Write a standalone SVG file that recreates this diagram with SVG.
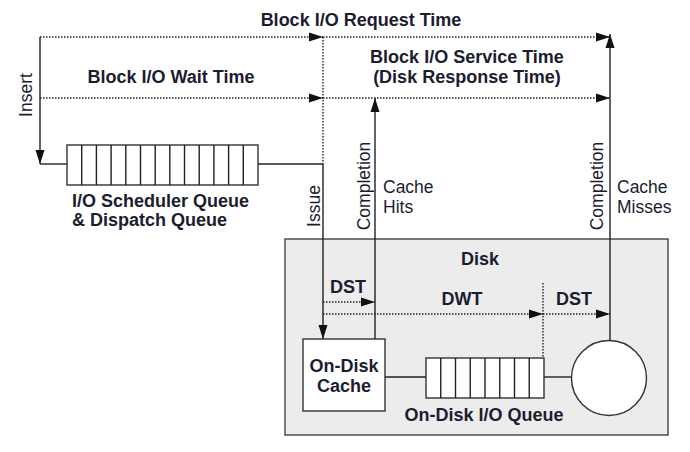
<svg xmlns="http://www.w3.org/2000/svg" width="690" height="452" viewBox="0 0 690 452">
<style>
.b{font-family:"Liberation Sans",Arial,sans-serif;font-weight:bold;font-size:18px;fill:#1c1c30}
.r{font-family:"Liberation Sans",Arial,sans-serif;font-size:17.5px;fill:#1c1c30}
.s{stroke:#222;stroke-width:1.4;fill:none}
.d{stroke:#222;stroke-width:1.4;fill:none;stroke-dasharray:1.5 1.5}
.box{fill:#fff;stroke:#333;stroke-width:1.4}
</style>
<defs>
<marker id="al" viewBox="0 0 14 10" refX="14" refY="5" markerWidth="14" markerHeight="10" markerUnits="userSpaceOnUse" orient="auto"><path d="M0,0.5 L14,5 L0,9.5 Z" fill="#111"/></marker>
</defs>
<rect width="690" height="452" fill="#fff"/>
<g id="disk">
<rect x="285" y="239" width="383" height="196" fill="#ececec" stroke="#444" stroke-width="1.4"/>
<text class="b" x="480" y="265" text-anchor="middle">Disk</text>
</g>
<g id="connectors">
<line class="s" x1="40" y1="37" x2="40" y2="164" marker-end="url(#al)"/>
<line class="d" x1="40" y1="37" x2="323" y2="37" marker-end="url(#al)"/>
<line class="d" x1="323" y1="37" x2="610" y2="37" marker-end="url(#al)"/>
<line class="d" x1="40" y1="98" x2="323" y2="98" marker-end="url(#al)"/>
<line class="d" x1="323" y1="98" x2="610" y2="98" marker-end="url(#al)"/>
<line class="d" x1="323" y1="37" x2="323" y2="164"/>
<line class="s" x1="40" y1="164" x2="67" y2="164"/>
<line class="s" x1="258" y1="164" x2="323" y2="164"/>
<line class="s" x1="323" y1="164" x2="323" y2="339" marker-end="url(#al)"/>
<line class="s" x1="375" y1="339" x2="375" y2="98" marker-end="url(#al)"/>
<line class="s" x1="610" y1="341" x2="610" y2="34" marker-end="url(#al)"/>
<line class="d" x1="323" y1="302" x2="375" y2="302" marker-end="url(#al)"/>
<line class="d" x1="323" y1="314" x2="543" y2="314" marker-end="url(#al)"/>
<line class="d" x1="543" y1="314" x2="610" y2="314" marker-end="url(#al)"/>
<line class="d" x1="543" y1="283" x2="543" y2="358"/>
<line class="s" x1="385" y1="377" x2="426" y2="377"/>
<line class="s" x1="544" y1="377" x2="571" y2="377"/>
</g>
<g id="labels">
<text class="b" x="361" y="26" text-anchor="middle">Block I/O Request Time</text>
<text class="b" x="171" y="83" text-anchor="middle">Block I/O Wait Time</text>
<text class="b" x="467" y="63" text-anchor="middle">Block I/O Service Time</text>
<text class="b" x="467" y="83" text-anchor="middle">(Disk Response Time)</text>
<text class="r" transform="translate(32,95) rotate(-90)" text-anchor="middle">Insert</text>
<text class="r" transform="translate(320,206) rotate(-90)" text-anchor="middle">Issue</text>
<text class="r" transform="translate(370,186) rotate(-90)" text-anchor="middle">Completion</text>
<text class="r" transform="translate(603,186) rotate(-90)" text-anchor="middle">Completion</text>
<text class="r" x="383" y="193">Cache</text>
<text class="r" x="383" y="213">Hits</text>
<text class="r" x="617" y="193">Cache</text>
<text class="r" x="617" y="213">Misses</text>
<text class="b" x="348" y="293" text-anchor="middle">DST</text>
<text class="b" x="462" y="305" text-anchor="middle">DWT</text>
<text class="b" x="574" y="305" text-anchor="middle">DST</text>
</g>
<g id="scheduler-queue">
<rect class="box" x="67" y="145" width="191" height="40"/>
<path class="s" d="M81.7,145V185M96.4,145V185M111.1,145V185M125.8,145V185M140.5,145V185M155.2,145V185M169.8,145V185M184.5,145V185M199.2,145V185M213.9,145V185M228.6,145V185M243.3,145V185"/>
<text class="b" x="72" y="207">I/O Scheduler Queue</text>
<text class="b" x="72" y="226">&amp; Dispatch Queue</text>
</g>
<g id="on-disk-cache">
<rect class="box" x="303" y="339" width="82" height="72"/>
<text class="b" x="344" y="372" text-anchor="middle">On-Disk</text>
<text class="b" x="344" y="392" text-anchor="middle">Cache</text>
</g>
<g id="on-disk-queue">
<rect class="box" x="426" y="358" width="118" height="40"/>
<path class="s" d="M440.75,358V398M455.5,358V398M470.25,358V398M485,358V398M499.75,358V398M514.5,358V398M529.25,358V398"/>
<text class="b" x="484" y="421" text-anchor="middle">On-Disk I/O Queue</text>
</g>
<g id="disk-platter">
<circle class="box" cx="609" cy="378" r="37.5"/>
</g>
</svg>
